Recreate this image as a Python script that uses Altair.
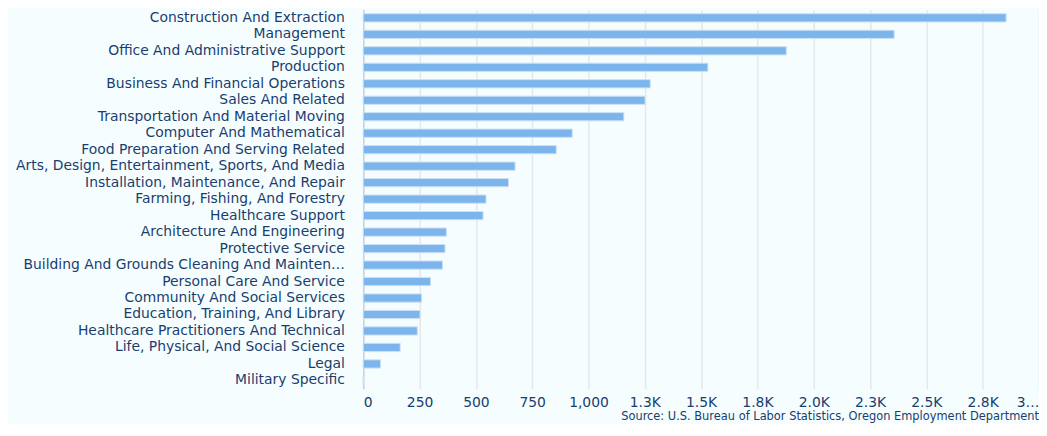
import altair as alt
import pandas as pd

categories = [
    "Construction And Extraction",
    "Management",
    "Office And Administrative Support",
    "Production",
    "Business And Financial Operations",
    "Sales And Related",
    "Transportation And Material Moving",
    "Computer And Mathematical",
    "Food Preparation And Serving Related",
    "Arts, Design, Entertainment, Sports, And Media",
    "Installation, Maintenance, And Repair",
    "Farming, Fishing, And Forestry",
    "Healthcare Support",
    "Architecture And Engineering",
    "Protective Service",
    "Building And Grounds Cleaning And Maintenance",
    "Personal Care And Service",
    "Community And Social Services",
    "Education, Training, And Library",
    "Healthcare Practitioners And Technical",
    "Life, Physical, And Social Science",
    "Legal",
    "Military Specific",
]
values = [2854, 2357, 1878, 1530, 1274, 1251, 1157, 928, 857, 674, 645, 545, 532,
          369, 363, 352, 299, 259, 252, 240, 164, 77, 0]
tick_values = [0, 250, 500, 750, 1000, 1250, 1500, 1750, 2000, 2250, 2500, 2750, 3000]

df = pd.DataFrame({"occupation": categories, "count": values})

text_color = "#1a3d6e"
font = "DejaVu Sans"

chart = alt.Chart(df).mark_bar(
    color="#7cb5ec", stroke="#cfe0f5", strokeWidth=1
).encode(
    x=alt.X(
        "count:Q",
        scale=alt.Scale(domain=[0, 3000], nice=False),
        axis=alt.Axis(
            title=None,
            values=tick_values,
            labelExpr="datum.value == 3000 ? '3…' : (datum.value > 1000 ? format(datum.value / 1000, '.1f') + 'K' : format(datum.value, ','))",
            labelFont=font,
            labelFontSize=14,
            labelColor=text_color,
            labelPadding=7,
            labelFlush=True,
            ticks=False,
            domain=False,
            grid=True,
            gridColor="#e4e8ec",
            gridWidth=1.5,
        ),
    ),
    y=alt.Y(
        "occupation:N",
        sort=categories,
        scale=alt.Scale(paddingInner=0.5, paddingOuter=0.25),
        axis=alt.Axis(
            title=None,
            labelFont=font,
            labelFontSize=14,
            labelColor=text_color,
            labelLimit=332,
            labelPadding=19,
            ticks=False,
            domain=True,
            domainColor="#c7d3df",
            domainWidth=1.5,
            grid=False,
        ),
    ),
).properties(
    width=681,
    height=382,
    autosize="none",
    padding={"left": 358, "top": 0, "right": 0, "bottom": 34},
    background="#f5fdff",
    title=alt.TitleParams(
        text="Source: U.S. Bureau of Labor Statistics, Oregon Employment Department",
        orient="bottom",
        anchor="end",
        font=font,
        fontSize=11.5,
        fontWeight="normal",
        color=text_color,
        offset=2,
    ),
).configure_view(stroke=None)

chart.save("out.html", embed_options={"renderer": "svg", "actions": False})
